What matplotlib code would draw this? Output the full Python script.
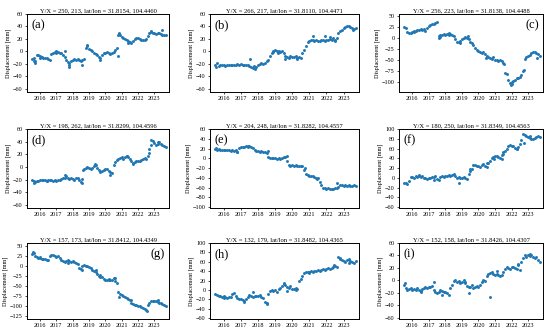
"""
InSAR displacement time series for nine points, 3x3 grid of scatter panels
"""

import matplotlib
matplotlib.use('Agg')
from matplotlib import pyplot as plt

plt.rcParams['font.family'] = ['Liberation Serif', 'DejaVu Serif']

# acquisition dates (decimal years), shared by all panels
dates = [2015.5, 2015.6, 2015.7, 2015.8, 2015.9, 2016.0, 2016.1, 2016.2, 2016.3, 2016.4,
         2016.5, 2016.6, 2016.7, 2016.8, 2016.9, 2017.0, 2017.1, 2017.2, 2017.3, 2017.4,
         2017.5, 2017.6, 2017.7, 2017.8, 2017.9, 2018.0, 2018.1, 2018.2, 2018.3, 2018.4,
         2018.5, 2018.6, 2018.7, 2018.8, 2018.9, 2019.0, 2019.1, 2019.2, 2019.3, 2019.4,
         2019.5, 2019.6, 2019.7, 2019.8, 2019.9, 2020.0, 2020.1, 2020.2, 2020.3, 2020.4,
         2020.5, 2020.6, 2020.7, 2020.8, 2020.9, 2021.0, 2021.1, 2021.2, 2021.3, 2021.4,
         2021.5, 2021.6, 2021.7, 2021.8, 2021.9, 2022.0, 2022.1, 2022.2, 2022.3, 2022.4,
         2022.5, 2022.6, 2022.7, 2022.8, 2022.9, 2023.0, 2023.1, 2023.2, 2023.3, 2023.4,
         2023.5, 2023.6, 2023.7]

disp_a = [-12, -10, -16, -6, -5, -8, -9, -10, -10, -11,
          -12, -13, -4, -3, -1, 0, -1, -2, -3, -6,
          -9, -14, -17, -19, -15, -13, -12, -14, -12, -13,
          -15, -14, -12, 5, 8, 4, 2, 0, -2, -4,
          -6, -9, -11, -6, -3, -2, -1, -3, -4, -3,
          -1, 3, 6, 26, 27, 23, 21, 20, 19, 17,
          15, 13, 16, 20, 22, 21, 20, 19, 18, 18,
          20, 24, 30, 31, 30, 29, 28, 29, 30, 28,
          27, 26, 27]
disp_b = [-22, -19, -24, -22, -21, -22, -23, -22, -21, -22,
          -21, -22, -21, -20, -21, -20, -21, -22, -21, -22,
          -24, -25, -27, -28, -25, -22, -20, -19, -20, -18,
          -16, -13, -8, -3, 1, 2, 0, 0, -1, 1,
          -3, -7, -9, -10, -8, -9, -9, -8, -10, -9,
          -11, -3, 2, 8, 15, 17, 18, 19, 17, 18,
          16, 17, 19, 18, 17, 19, 18, 20, 19, 21,
          18, 22, 30, 33, 35, 37, 39, 40, 40, 39,
          38, 36, 37]
disp_c = [25, 22, 15, 11, 12, 13, 14, 16, 18, 19,
          20, 18, 21, 17, 22, 28, 30, 32, 33, 35,
          37, 5, 8, 6, 9, 8, 10, 7, 9, 6,
          4, -3, -8, -10, -6, -3, 0, 2, 0, -3,
          -8, -12, -16, -22, -28, -30, -31, -33, -32, -36,
          -40, -43, -45, -47, -44, -50, -49, -52, -50, -53,
          -57, -80, -82, -95, -102, -105, -98, -95, -92, -90,
          -88, -85, -75, -48, -42, -40, -38, -35, -32, -31,
          -33, -37, -40]
disp_d = [-20, -22, -24, -23, -22, -21, -20, -21, -21, -22,
          -21, -20, -21, -22, -21, -22, -21, -20, -19, -18,
          -17, -14, -18, -19, -18, -19, -20, -17, -18, -21,
          -24, -19, -3, -2, 0, -2, -3, -1, 1, 3,
          -2, -5, -8, -7, -5, -3, -4, -6, -8, -10,
          3, 8, 11, 13, 14, 15, 13, 16, 17, 15,
          12, 9, 6, 8, 9, 10, 9, 11, 12, 14,
          13, 17, 28, 35, 41, 38, 34, 37, 39, 36,
          34, 33, 32]
disp_e = [20, 17, 18, 17, 16, 17, 16, 17, 16, 15,
          16, 15, 16, 12, 22, 23, 24, 24, 25, 24,
          25, 24, 22, 17, 15, 14, 13, 14, 13, 12,
          10, 2, 1, 0, 1, 0, -1, 0, -1, 0,
          2, 3, -5, -13, -15, -14, -15, -14, -15, -16,
          -15, -16, -25, -32, -35, -36, -37, -36, -38, -40,
          -40, -48, -55, -60, -62, -63, -62, -63, -64, -63,
          -62, -60, -58, -54, -55, -56, -55, -56, -55, -57,
          -56, -55, -57]
disp_f = [-10, -11, -12, -6, 1, 2, 0, 3, 2, 4,
          1, 3, 0, -1, -2, 0, -1, 1, 2, 3,
          -3, -4, 1, 3, 2, 4, 3, 5, 4, 6,
          8, 3, 0, 1, 0, -1, 1, 0, -2, 8,
          14, 17, 27, 26, 24, 25, 23, 26, 28, 24,
          22, 30, 35, 40, 42, 44, 45, 42, 40, 46,
          48, 55, 60, 66, 68, 66, 65, 62, 60, 64,
          70, 78, 90, 88, 86, 84, 82, 80, 79, 81,
          84, 86, 83]
disp_g = [30, 33, 25, 22, 21, 20, 19, 18, 18, 16,
          15, 25, 28, 27, 25, 24, 26, 20, 16, 14,
          11, 13, 15, 12, 10, 13, 11, 8, 5, -5,
          -8, 0, 2, 1, -1, -3, -6, -9, -12, -15,
          -20, -24, -22, -28, -32, -34, -35, -36, -34, -35,
          -30, -37, -42, -65, -70, -73, -75, -78, -80, -82,
          -86, -92, -96, -98, -99, -100, -101, -102, -105, -108,
          -110, -98, -92, -88, -87, -88, -89, -90, -92, -94,
          -96, -98, -100]
disp_h = [-8, -10, -12, -13, -15, -17, -16, -18, -16, -15,
          -8, -7, -14, -17, -19, -20, -22, -24, -20, -15,
          -10, -13, -16, -12, -14, -13, -11, -15, -17, -25,
          -28, -8, -3, 0, -2, -1, -4, 2, 5, 8,
          12, 10, 6, 4, 8, 3, 1, 4, 2, 18,
          24, 30, 36, 38, 39, 38, 40, 39, 41, 40,
          42, 40, 43, 44, 42, 45, 46, 44, 47, 48,
          50, 49, 70, 66, 63, 62, 60, 63, 66, 62,
          60, 58, 61]
disp_i = [-8, -12, -15, -14, -13, -15, -14, -16, -13, -15,
          -17, -14, -12, -11, -12, -10, -11, -9, -16, -19,
          -21, -18, -16, -17, -18, -19, -21, -24, -12, -8,
          -1, 0, -2, -1, -4, -2, 0, -3, -9, -11,
          -10, -8, -12, -10, -9, -11, -8, -3, 0, -1,
          7, 10, 12, 13, 11, 9, 10, 8, 7, 9,
          14, 19, 21, 20, 19, 21, 22, 20, 18, 24,
          16, 30, 36, 40, 38, 41, 39, 40, 37, 36,
          38, 33, 30]

# scattered extra acquisitions off the main trend
extra_a_t = [2015.65, 2015.7, 2017.55, 2017.75, 2017.8, 2018.6, 2018.85, 2019.65, 2020.75, 2020.85, 2023.45, 2017.0, 2016.0, 2021.4, 2022.8]
extra_a_v = [-15, -18, 1, -25, -22, -22, 10, -13, -8, 29, 35, -3, -10, 14, 33]
extra_b_t = [2015.55, 2017.55, 2017.75, 2019.15, 2019.6, 2020.3, 2021.2, 2021.9, 2022.2, 2022.5, 2018.85, 2023.55]
extra_b_v = [-25, -12, -23, -3, -12, -12, 24, 25, 23, 16, -1, 35]
extra_c_t = [2017.6, 2017.65, 2018.2, 2019.35, 2020.45, 2021.55, 2021.95, 2022.0, 2023.55, 2016.1, 2022.75, 2018.9]
extra_c_v = [0, 2, 12, 5, -45, -60, -108, -100, -45, 16, -73, -12]
extra_d_t = [2015.6, 2017.55, 2018.65, 2018.55, 2019.35, 2020.3, 2021.3, 2021.7, 2022.65, 2022.8, 2023.2, 2016.4]
extra_d_v = [-25, -13, -5, -25, 4, -12, 18, 4, 22, 42, 40, -23]
extra_e_t = [2015.55, 2016.8, 2017.4, 2019.7, 2020.75, 2021.45, 2022.6, 2018.6]
extra_e_v = [22, 12, 26, 4, -20, -42, -50, 14]
extra_f_t = [2018.8, 2019.5, 2020.5, 2020.95, 2021.4, 2021.5, 2022.35, 2022.75, 2023.1, 2017.3, 2016.4]
extra_f_v = [-10, 18, 30, 38, 38, 52, 58, 72, 86, -5, 5]
extra_g_t = [2015.55, 2016.0, 2017.7, 2018.55, 2019.4, 2020.2, 2020.6, 2020.85, 2021.6, 2022.55, 2023.2, 2019.7]
extra_g_v = [35, 22, 8, -10, -10, -33, -30, -77, -84, -113, -85, -27]
extra_h_t = [2017.7, 2018.5, 2019.5, 2019.7, 2020.2, 2021.0, 2022.45, 2022.8, 2016.0, 2017.2, 2023.3]
extra_h_v = [-5, -30, 15, -3, -1, 35, 53, 67, -12, -26, 58]
extra_i_t = [2015.55, 2017.3, 2017.8, 2019.4, 2020.7, 2021.1, 2022.4, 2023.1, 2019.2, 2016.5]
extra_i_v = [-5, -3, -24, -20, -27, 15, 26, 43, -5, -18]

titles = ['Y/X = 250, 213, lat/lon = 31.8154, 104.4460',
          'Y/X = 266, 217, lat/lon = 31.8110, 104.4471',
          'Y/X = 256, 223, lat/lon = 31.8138, 104.4488',
          'Y/X = 198, 262, lat/lon = 31.8299, 104.4596',
          'Y/X = 204, 248, lat/lon = 31.8282, 104.4557',
          'Y/X = 180, 250, lat/lon = 31.8349, 104.4563',
          'Y/X = 157, 173, lat/lon = 31.8412, 104.4349',
          'Y/X = 132, 179, lat/lon = 31.8482, 104.4365',
          'Y/X = 152, 158, lat/lon = 31.8426, 104.4307']
labels = ['(a)', '(b)', '(c)', '(d)', '(e)', '(f)', '(g)', '(h)', '(i)']
series = [disp_a, disp_b, disp_c, disp_d, disp_e, disp_f, disp_g, disp_h, disp_i]
extras = [(extra_a_t, extra_a_v), (extra_b_t, extra_b_v), (extra_c_t, extra_c_v),
          (extra_d_t, extra_d_v), (extra_e_t, extra_e_v), (extra_f_t, extra_f_v),
          (extra_g_t, extra_g_v), (extra_h_t, extra_h_v), (extra_i_t, extra_i_v)]
ylims = [(-65, 60), (-65, 60), (-123, 55), (-65, 60), (-102, 60), (-62, 100),
         (-133, 58), (-62, 100), (-62, 60)]
yticks = [range(-60, 61, 20), range(-60, 61, 20), range(-100, 51, 25),
          range(-60, 61, 20), range(-100, 61, 20), range(-60, 101, 20),
          range(-125, 51, 25), range(-60, 101, 20), range(-60, 61, 20)]
years = [2016, 2017, 2018, 2019, 2020, 2021, 2022, 2023]

# axes boxes in pixels: left, right, top, bottom
cols = [(27, 169), (210, 359), (399, 543)]
rows = [(14, 92), (129, 208), (243, 319)]
W, H = 550, 332

fig = plt.figure(figsize=(5.5, 3.32), dpi=100)
for k in range(9):
    l, r = cols[k % 3]
    t, b = rows[k // 3]
    ax = fig.add_axes([l / W, 1 - b / H, (r - l) / W, (b - t) / H])
    ax.scatter(dates, series[k], s=4.5, c='#1f77b4', linewidths=0)
    ax.scatter(extras[k][0], extras[k][1], s=4.5, c='#1f77b4', linewidths=0)
    ax.set_xlim(2015.2, 2023.9)
    ax.set_ylim(*ylims[k])
    ax.set_xticks(years)
    ax.set_yticks(list(yticks[k]))
    ax.tick_params(axis='both', labelsize=4.4, length=1.5, width=0.5, pad=1.5)
    ax.set_title(titles[k], fontsize=4.7, pad=1.5)
    ax.set_ylabel('Displacement [mm]', fontsize=4.4, labelpad=1.5)
    for sp in ax.spines.values():
        sp.set_linewidth(0.7)
    if k in (2, 6):
        ax.text(0.97, 0.93, labels[k], transform=ax.transAxes, fontsize=9,
                ha='right', va='top')
    else:
        ax.text(0.03, 0.93, labels[k], transform=ax.transAxes, fontsize=9,
                ha='left', va='top')

plt.savefig('out.png', dpi=100)
